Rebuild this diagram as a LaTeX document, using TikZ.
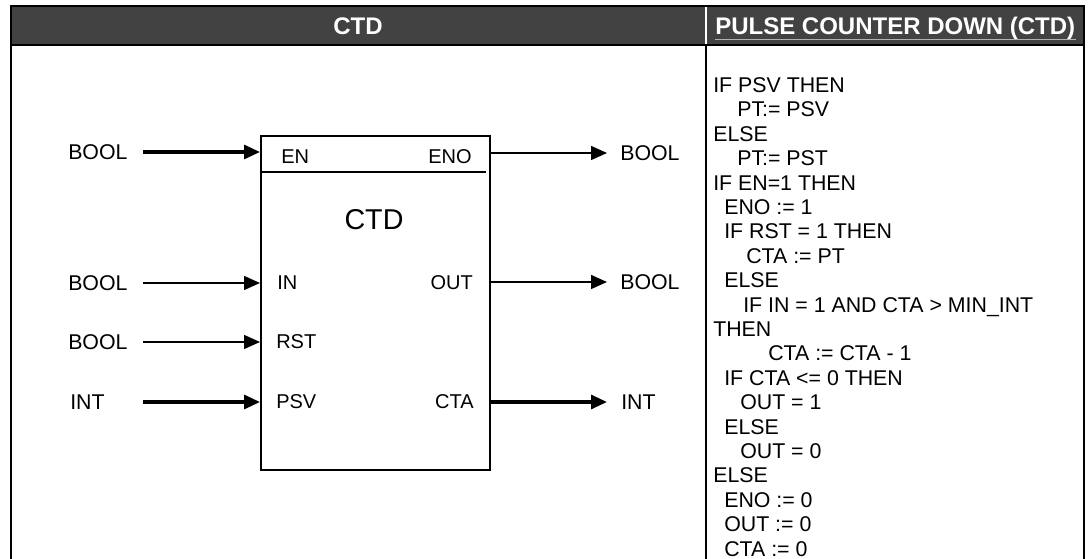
\documentclass[tikz,border=0pt]{standalone}
\usepackage{fontspec}
\setmainfont{Liberation Sans}
\usetikzlibrary{arrows.meta}
\definecolor{hdrgray}{RGB}{66,66,66}
\begin{document}
\begin{tikzpicture}[x=0.75pt,y=-0.75pt,
  hdr/.style={text=white,inner sep=0pt,font=\bfseries\fontsize{18pt}{20pt}\selectfont},
  code/.style={anchor=base west,inner sep=0pt,font=\fontsize{16pt}{18pt}\selectfont},
  pin/.style={inner sep=0pt,font=\fontsize{15pt}{17pt}\selectfont},
  typ/.style={inner sep=0pt,anchor=west,font=\fontsize{16pt}{18pt}\selectfont},
  thickw/.style={line width=2.3pt},
  thinw/.style={line width=1.1pt},
  arr/.style={-{Triangle[length=12pt,width=10.5pt]}},
  frame/.style={line width=2.2pt}
]
\useasboundingbox[fill=white] (0,0) rectangle (1089,559);
% table
\fill[hdrgray] (11,6) rectangle (1084,45);
\draw[frame] (11,559) -- (11,6) -- (1084,6) -- (1084,559);
\draw[frame] (11,45) -- (1084,45);
\draw[white,line width=1.6pt] (706,7.5) -- (706,44);
\draw[line width=1.6pt] (706,45) -- (706,559);
\node[hdr,anchor=base] (h1) at (358,34.5) {CTD};
\node[hdr,anchor=base west] (h2) at (715,34.5) {PULSE COUNTER DOWN (CTD)};
\draw[gray!60,line width=0.8pt] ([yshift=-4pt]h2.base west) -- ([yshift=-4pt]h2.base east);
% block
\node[draw,line width=1.2pt,anchor=north west,inner sep=0pt,minimum width=171.75pt,minimum height=250.5pt] (blk) at (260,135) {};
\coordinate (sep) at (0,172);
\coordinate (sepr) at (486,172);
\draw[line width=1.2pt] (blk.west |- sep) -- (sepr);
\node[font=\fontsize{21.5pt}{24pt}\selectfont,inner sep=0pt] (title) at (374,220) {CTD};
% pins
\node[pin,anchor=west] (pEN) at (281,157) {EN};
\node[pin,anchor=east] (pENO) at (472,157) {ENO};
\node[pin,anchor=west] (pIN) at (277,283) {IN};
\node[pin,anchor=east] (pOUT) at (473,283) {OUT};
\node[pin,anchor=west] (pRST) at (276,342) {RST};
\node[pin,anchor=west] (pPSV) at (276,402) {PSV};
\node[pin,anchor=east] (pCTA) at (474,402) {CTA};
% type labels
\node[typ] (tEN) at (68,152) {BOOL};
\node[typ] (tIN) at (68,283) {BOOL};
\node[typ] (tRST) at (68,342) {BOOL};
\node[typ] (tPSV) at (70,402) {INT};
\node[typ] (tENO) at (620,153) {BOOL};
\node[typ] (tOUT) at (620,282) {BOOL};
\node[typ] (tCTA) at (621,402) {INT};
% connector ends
\coordinate (sEN) at (143,152);
\coordinate (sIN) at (143,283);
\coordinate (sRST) at (143,342);
\coordinate (sPSV) at (143,402);
\coordinate (eENO) at (607,153);
\coordinate (eOUT) at (607,282);
\coordinate (eCTA) at (607,402);
\draw[thickw,arr] (sEN) -- (sEN -| blk.west);
\draw[thinw,arr] (sIN) -- (sIN -| blk.west);
\draw[thinw,arr] (sRST) -- (sRST -| blk.west);
\draw[thickw,arr] (sPSV) -- (sPSV -| blk.west);
\draw[thinw,arr] (eENO -| blk.east) -- (eENO);
\draw[thinw,arr] (eOUT -| blk.east) -- (eOUT);
\draw[thickw,arr] (eCTA -| blk.east) -- (eCTA);
% code
\foreach \x/\t [count=\i from 0] in {
 713/IF PSV THEN,
 737/PT:= PSV,
 713/ELSE,
 737/PT:= PST,
 713/IF EN=1 THEN,
 724/ENO := 1,
 724/IF RST = 1 THEN,
 746/CTA := PT,
 724/ELSE,
 743/IF IN = 1 AND CTA > MIN\textunderscore INT,
 713/THEN,
 768/CTA := CTA - 1,
 724/IF CTA <= 0 THEN,
 740/OUT = 1,
 724/ELSE,
 740/OUT = 0,
 713/ELSE,
 724/ENO := 0,
 724/OUT := 0,
 724/CTA := 0}
 \node[code] (c\i) at (\x,92.5+24.4*\i) {\t};
\end{tikzpicture}
\end{document}
